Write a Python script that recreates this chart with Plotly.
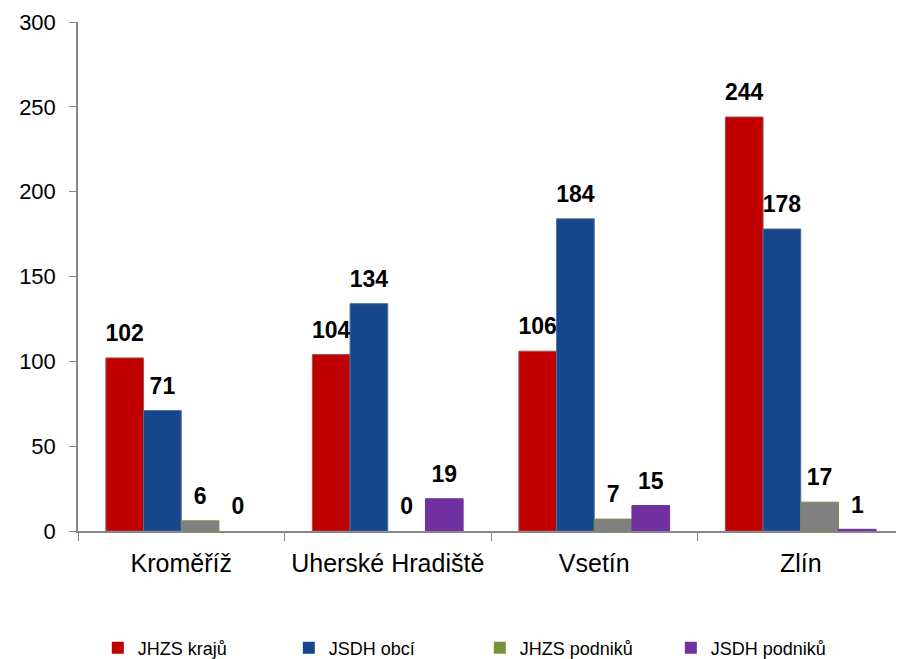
import plotly.graph_objects as go

categories = ["Kroměříž", "Uherské Hradiště", "Vsetín", "Zlín"]
series_names = ["JHZS krajů", "JSDH obcí", "JHZS podniků", "JSDH podniků"]
jhzs_kraju = [102, 104, 106, 244]
jsdh_obci = [71, 134, 184, 178]
jhzs_podniku = [6, 0, 7, 17]
jsdh_podniku = [0, 19, 15, 1]
y_ticks = [0, 50, 100, 150, 200, 250, 300]

values = [jhzs_kraju, jsdh_obci, jhzs_podniku, jsdh_podniku]
fills = ["#C00000", "#17468A", "#808080", "#7030A0"]
edges = ["#A05050", "#4A72A8", "#77933C", "#7030A0"]
legend_colors = ["#C00000", "#17468A", "#77933C", "#7030A0"]

GAP = 0.27
fig = go.Figure()
for i, (name, vals, fc, ec) in enumerate(zip(series_names, values, fills, edges)):
    fig.add_trace(go.Bar(
        x=categories, y=vals, name=name, showlegend=False,
        offsetgroup=f"s{i}",
        marker=dict(color=fc, line=dict(color=ec, width=[1 if v > 0 else 0 for v in vals])),
        hoverinfo="skip",
    ))
    fig.add_trace(go.Bar(
        x=[categories[0]], y=[None], name=name, showlegend=True,
        offsetgroup=f"s{i}",
        marker=dict(color=legend_colors[i], line=dict(width=0)),
    ))
for i, vals in enumerate(values):
    fig.add_trace(go.Scatter(
        x=categories, y=vals, mode="markers+text", showlegend=False,
        offsetgroup=f"s{i}",
        text=[str(v) for v in vals], textposition="top center",
        marker=dict(size=16, color="rgba(0,0,0,0)"),
        textfont=dict(family="Arial", size=23, color="#000000", weight="bold"),
        cliponaxis=False, hoverinfo="skip",
    ))

fig.update_layout(
    width=896, height=651,
    margin=dict(l=70, r=0, t=14, b=128, autoexpand=False),
    paper_bgcolor="white", plot_bgcolor="white",
    barmode="group", bargap=GAP, bargroupgap=0,
    scattermode="group", scattergap=GAP,
    showlegend=True,
    legend=dict(orientation="h", x=0.024, y=-0.23, xanchor="left", yanchor="middle",
                font=dict(family="Arial", size=18, color="#000000"),
                entrywidth=146, entrywidthmode="pixels", itemwidth=30,
                traceorder="normal"),
)
fig.update_xaxes(
    showline=True, linecolor="#868686", linewidth=1.5,
    ticks="outside", tickson="boundaries", ticklen=8, tickcolor="#868686",
    tickfont=dict(family="Arial", size=25, color="#000000"),
    ticklabelstandoff=9, showgrid=False,
)
fig.update_yaxes(
    range=[0, 300], tickvals=y_ticks, showline=True, linecolor="#868686", linewidth=1.5,
    ticks="outside", ticklen=7, tickcolor="#868686", showgrid=False, zeroline=False,
    tickfont=dict(family="Arial", size=22, color="#000000"),
    ticklabelstandoff=9,
)
fig.write_html("out.html")
